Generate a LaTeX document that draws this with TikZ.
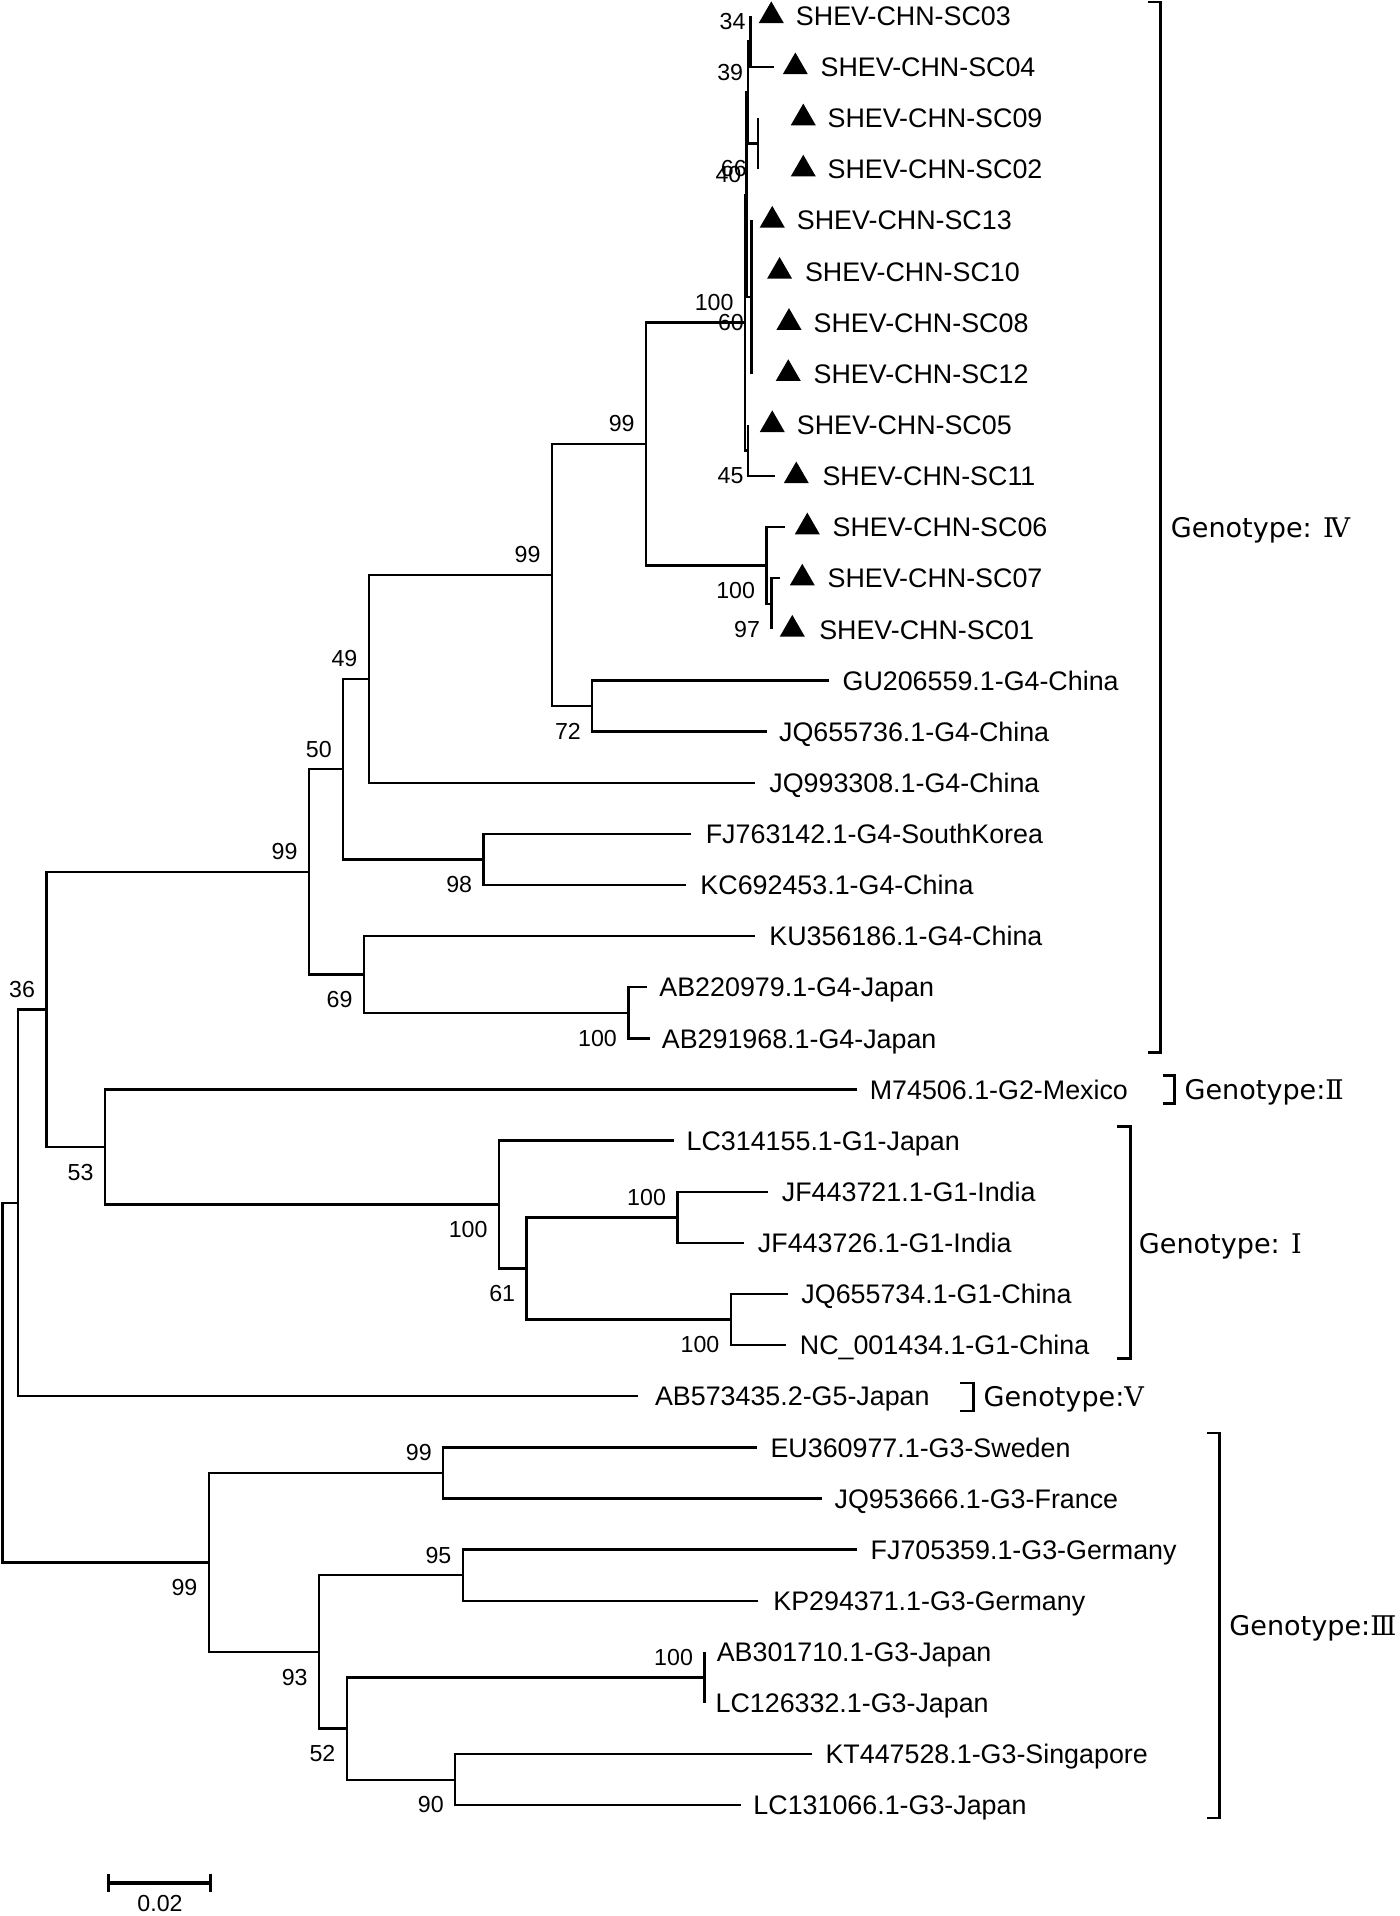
\documentclass[tikz,border=0pt]{standalone}
\usepackage{fontspec}
\newfontfamily\leaffont{Liberation Sans}
\newfontfamily\genofont{DejaVu Sans}
\newfontfamily\romfont{DejaVu Serif}
\usetikzlibrary{shapes.geometric,arrows.meta}

\begin{document}
\begin{tikzpicture}[x=0.01cm,y=-0.4184cm,line width=0.55pt,
leaf/.style={anchor=base west,inner sep=0pt,yshift=-2.24pt,font=\leaffont\fontsize{6.25}{7}\selectfont},
tri/.style={regular polygon,regular polygon sides=3,fill,inner sep=0pt,minimum size=0.237cm},
bsa/.style={anchor=south east,inner sep=0pt,xshift=-2.4pt,yshift=2.5pt,font=\leaffont\fontsize{5.4}{6}\selectfont},
bsb/.style={anchor=north east,inner sep=0pt,xshift=-2.4pt,yshift=-3.7pt,font=\leaffont\fontsize{5.4}{6}\selectfont},
geno/.style={anchor=base west,inner sep=0pt,yshift=-2.3pt,font=\genofont\fontsize{6.3}{8}\selectfont},
bracket/.style={line width=0.65pt}]

\useasboundingbox (0,-0.3107) rectangle (1146,37.166);

% inner nodes of the tree
\coordinate (root) at (2,26.734);
\coordinate (na) at (14.6,23.217);
\coordinate (nb) at (38,19.434);
\coordinate (nc) at (253,16.742);
\coordinate (ne) at (281,14.734);
\coordinate (ng) at (302,12.969);
\coordinate (ni) at (452,10.938);
\coordinate (nj) at (529,8.375);
\coordinate (nm) at (610,6);
\coordinate (ns) at (611.2,3.5);
\coordinate (nq) at (612.6,1.5);
\coordinate (np) at (614.5,0.5);
\coordinate (nr) at (620.8,2.5);
\coordinate (nv) at (615.3,5.5);
\coordinate (nx) at (612.6,8.5);
\coordinate (nn) at (627.6,10.75);
\coordinate (no) at (631.7,11.5);
\coordinate (nk) at (485,13.5);
\coordinate (nh) at (396,16.5);
\coordinate (nf) at (298,18.75);
\coordinate (nl) at (514.5,19.5);
\coordinate (nd) at (86,22.125);
\coordinate (nz) at (408.6,23.25);
\coordinate (nz2) at (431.2,24.5);
\coordinate (nz3) at (554.7,23.5);
\coordinate (nz4) at (598.4,25.5);
\coordinate (r3) at (171,30.25);
\coordinate (t1) at (362.9,28.5);
\coordinate (t2) at (261.3,32);
\coordinate (t3) at (379,30.5);
\coordinate (t4) at (284,33.5);
\coordinate (t5) at (576.8,32.5);
\coordinate (t6) at (372.7,34.5);

% isolates of this study
\foreach \k/\r/\tx/\trx/\lx in {03/0/614.5/621.3/650.8, 04/1/634/641/671,
  09/2/620.8/647.5/676.7, 02/3/620.8/647.5/676.7, 13/4/615.3/622.1/651.6,
  10/5/615.3/628.1/658.2, 08/6/615.3/635.8/665.3, 12/7/615.3/635.2/665.3,
  05/8/612.6/622.1/651.6, 11/9/634.5/641.8/672.6, 06/10/642.6/650.8/680.8,
  07/11/638.5/646.7/676.7, 01/12/631.7/638.5/669.9}
{
  \coordinate (sc\k) at (\tx,\r);
  \node[tri] (sc\k-t) at (\trx+10.25,\r) {};
  \node[leaf] (sc\k-l) at (\lx,\r) {SHEV-CHN-SC\k};
}

% reference strains
\foreach \n/\r/\tx/\lx/\t in {gu/13/679/689/GU206559.1-G4-China,
  jq736/14/628/637/JQ655736.1-G4-China, jq308/15/618.5/629/JQ993308.1-G4-China,
  fj142/16/565.5/577/FJ763142.1-G4-SouthKorea, kc453/17/562/572.6/KC692453.1-G4-China,
  ku186/18/618.5/629/KU356186.1-G4-China, ab979/19/529.6/539/AB220979.1-G4-Japan,
  ab968/20/532/541/AB291968.1-G4-Japan, m506/21/702/711.3/M74506.1-G2-Mexico,
  lc155/22/551.8/561.3/LC314155.1-G1-Japan, jf721/23/629/639.3/JF443721.1-G1-India,
  jf726/24/609/619.7/JF443726.1-G1-India, jq734/25/645/655.3/JQ655734.1-G1-China,
  nc434/26/643.5/654/NC\_001434.1-G1-China, ab435/27/522.4/535.4/AB573435.2-G5-Japan,
  eu977/28/619.8/630/EU360977.1-G3-Sweden, jq666/29/673/682.5/JQ953666.1-G3-France,
  fj359/30/702/712/FJ705359.1-G3-Germany, kp371/31/620.5/632.3/KP294371.1-G3-Germany,
  ab710/32/576.8/586/AB301710.1-G3-Japan, lc332/33/576.8/585/LC126332.1-G3-Japan,
  kt528/34/664.5/675/KT447528.1-G3-Singapore, lc066/35/607/616/LC131066.1-G3-Japan}
{
  \coordinate (\n) at (\tx,\r);
  \node[leaf] (\n-l) at (\lx,\r) {\t};
}

% branches
\foreach \a/\b in {root/na, root/r3, na/nb, na/ab435, nb/nc, nb/nd, nc/ne, nc/nf,
  ne/ng, ne/nh, ng/ni, ng/jq308, ni/nj, ni/nk, nj/nm, nj/nn, nm/ns, nm/nx,
  ns/nq, ns/nv, nq/np, nq/nr, np/sc03, np/sc04, nr/sc09, nr/sc02,
  nv/sc13, nv/sc10, nv/sc08, nv/sc12, nx/sc05, nx/sc11, nn/sc06, nn/no,
  no/sc07, no/sc01, nk/gu, nk/jq736, nh/fj142, nh/kc453, nf/ku186, nf/nl,
  nl/ab979, nl/ab968, nd/m506, nd/nz, nz/lc155, nz/nz2, nz2/nz3, nz2/nz4,
  nz3/jf721, nz3/jf726, nz4/jq734, nz4/nc434, r3/t1, r3/t2, t1/eu977, t1/jq666,
  t2/t3, t2/t4, t3/fj359, t3/kp371, t4/t5, t4/t6, t5/ab710, t5/lc332,
  t6/kt528, t6/lc066}
  \draw (\a) |- (\b);

% bootstrap values
\foreach \n/\v in {nm/100, nj/99, ni/99, ng/49, ne/50, nc/99, nb/36, nz3/100, t1/99, t3/95, t5/100}
  \node[bsa] (bs-\n) at (\n) {\v};
\foreach \n/\v in {nr/66, nn/100, no/97, nk/72, nh/98, nf/69, nl/100, nd/53, nz/100,
  nz2/61, nz4/100, r3/99, t2/93, t4/52, t6/90}
  \node[bsb] (bs-\n) at (\n) {\v};
\node[bsa,xshift=1.5pt] (bs-np) at (np) {34};
\node[bsa,xshift=1.5pt] (bs-nq) at (nq) {39};
\node[bsa,xshift=1.5pt] (bs-ns) at (ns) {40};
\node[bsb,xshift=0.9pt] (bs-nv) at (nv) {60};
\node[bsb,xshift=1.6pt] (bs-nx) at (nx) {45};

% genotype brackets
\draw[bracket] (940,-0.27) -- (950.4,-0.27) -- (950.4,20.28) -- (940,20.28);
\draw[bracket] (952,20.72) -- (962,20.72) -- (962,21.27) -- (952,21.27);
\draw[bracket] (915,21.73) -- (925.5,21.73) -- (925.5,26.26) -- (915,26.26);
\draw[bracket] (786.4,26.74) -- (797,26.74) -- (797,27.29) -- (786.4,27.29);
\draw[bracket] (988,27.72) -- (998.6,27.72) -- (998.6,35.25) -- (988,35.25);

\node[geno] (g4) at (957.8,10) {Genotype: {\romfont Ⅳ}};
\node[geno] (g2) at (969,21) {Genotype:{\romfont Ⅱ}};
\node[geno] (g1) at (931.6,24.02) {Genotype: {\romfont Ⅰ}};
\node[geno] (g5) at (804.4,27) {Genotype:{\romfont Ⅴ}};
\node[geno] (g3) at (1005.7,31.48) {Genotype:{\romfont Ⅲ}};

% scale bar
\coordinate (sb1) at (88,36.52);
\coordinate (sb2) at (173.6,36.52);
\draw[line width=0.7pt,{Bar[width=4.4pt]}-{Bar[width=4.4pt]}] (sb1) -- (sb2);
\node[inner sep=0pt,font=\leaffont\fontsize{5.4}{6}\selectfont] (sblabel) at (131,36.93) {0.02};

\end{tikzpicture}
\end{document}
